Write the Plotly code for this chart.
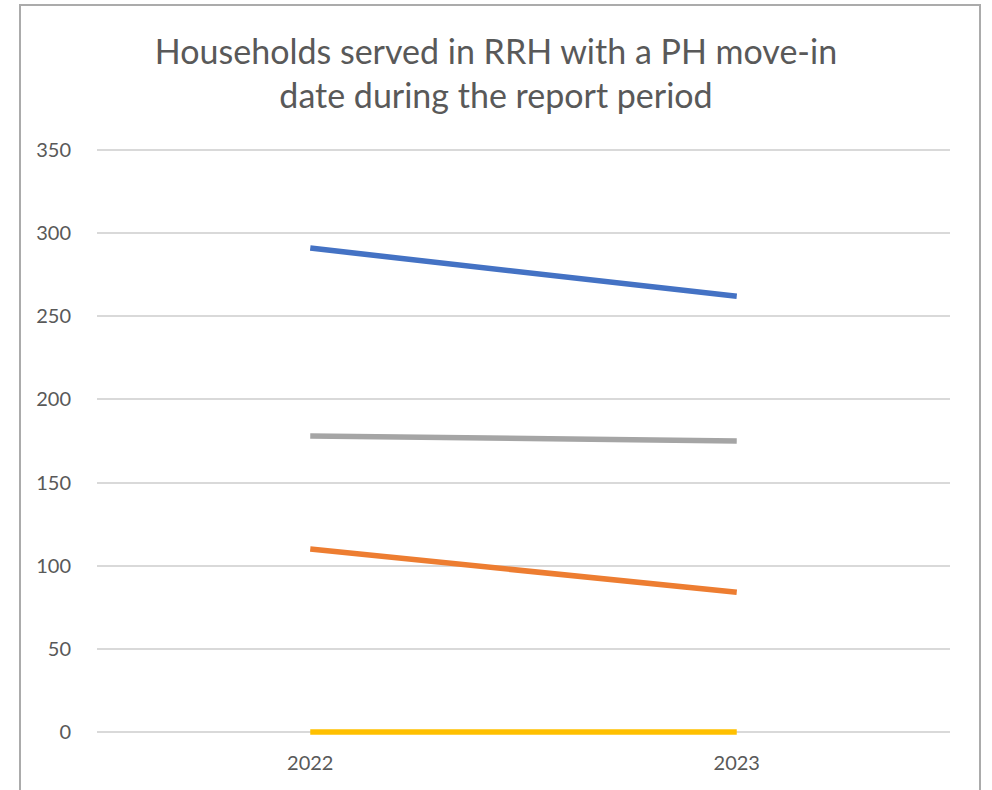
import plotly.graph_objects as go

years = ["2022", "2023"]
series_blue = [291, 262]
series_orange = [110, 84]
series_gray = [178, 175]
series_yellow = [0, 0]
y_ticks = [0, 50, 100, 150, 200, 250, 300, 350]

title_text = "Households served in RRH with a PH move-in<br>date during the report period"

W, H = 992, 790
plot_left, plot_right = 97, 950
plot_top, plot_bottom = 145, 737  # includes a small padding around 0..350

fig = go.Figure()
for vals, color in [(series_yellow, "#FFC000"), (series_orange, "#ED7D31"),
                    (series_gray, "#A5A5A5"), (series_blue, "#4472C4")]:
    fig.add_trace(go.Scatter(x=years, y=vals, mode="lines",
                             line=dict(color=color, width=5.5), showlegend=False))

ph = plot_bottom - plot_top
pw = plot_right - plot_left

fig.update_layout(
    width=W, height=H,
    margin=dict(l=plot_left, r=W - plot_right, t=plot_top, b=H - plot_bottom, pad=0),
    paper_bgcolor="white", plot_bgcolor="white",
    font=dict(family="Lato", color="#595959", size=20),
    title=dict(text=title_text, x=0.5, xanchor="center", y=0.919, yanchor="top",
               font=dict(size=34, color="#595959", family="Lato")),
    xaxis=dict(type="category", range=[-0.5, 1.5], showgrid=False, showline=False,
               zeroline=False, ticks="", ticklabelstandoff=12,
               tickfont=dict(size=20, color="#595959")),
    yaxis=dict(range=[-3, 353], tickvals=y_ticks, showgrid=True, gridcolor="#D9D9D9",
               gridwidth=1.5, zeroline=False, showline=False, ticks="",
               ticklabelstandoff=25,
               tickfont=dict(size=20, color="#595959")),
    shapes=[dict(type="rect", xref="paper", yref="paper",
                 x0=(20 - plot_left) / pw, x1=(980 - plot_left) / pw,
                 y0=(plot_bottom - 800) / ph, y1=(plot_bottom - 5) / ph,
                 line=dict(color="#ABABAB", width=2), layer="below")],
)

fig.write_html("out.html", config={"displayModeBar": False},
               post_script="document.body.style.margin='0';")
